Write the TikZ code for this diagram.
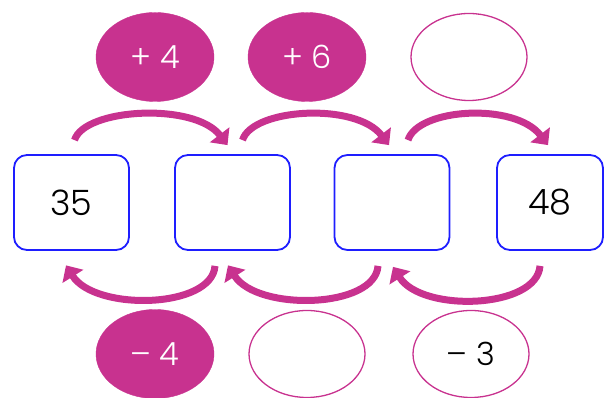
\documentclass[tikz,border=0pt]{standalone}
\usepackage{fontspec}
\IfFontExistsTF{Poppins Light}{\setmainfont{Poppins Light}}{\setmainfont{Poppins}}
\usetikzlibrary{arrows.meta,calc,shapes.geometric}
\definecolor{mag}{RGB}{200,50,143}
\definecolor{bblue}{RGB}{30,30,255}
\tikzset{
  numbox/.style={draw=bblue, line width=1.8pt, rounded corners=13pt, minimum width=115pt, minimum height=95pt, inner sep=0pt, font=\fontsize{35}{35}\selectfont, text=black},
  fullov/.style={ellipse, fill=mag, draw=mag, minimum width=118pt, minimum height=89pt, inner sep=0pt, text=white, font=\fontsize{32}{32}\selectfont},
  emptyov/.style={ellipse, draw=mag, line width=1.3pt, minimum width=116pt, minimum height=87pt, inner sep=0pt, text=black, font=\fontsize{32}{32}\selectfont},
  arr/.style={draw=mag, line width=7pt, -{Triangle[length=13pt,width=24pt]}}
}
\begin{document}
\begin{tikzpicture}[x=1pt,y=1pt]
\useasboundingbox (0,0) rectangle (605,398);
\node[numbox] (b1) at (71.5,195.5) {35};
\node[numbox] (b2) at (232.5,195.5) {};
\node[numbox] (b3) at (392,195.5) {};
\node[numbox, minimum width=106pt] (b4) at (550,195.5) {48};
\node[fullov] (t1) at (155,341) {+ 4};
\node[fullov] (t2) at (307,341) {+ 6};
\node[emptyov] (t3) at (469,341) {};
\node[fullov] (u1) at (155,44) {– 4};
\node[emptyov] (u2) at (307,44) {};
\node[emptyov] (u3) at (471,44) {– 3};
\draw[arr] ([shift={(3,14)}]b1.north) .. controls +(10,32) and +(-33,43) .. ([shift={(-5,9)}]b2.north);
\draw[arr] ([shift={(10,14)}]b2.north) .. controls +(10,32) and +(-33,43) .. ([shift={(-3,9)}]b3.north);
\draw[arr] ([shift={(16,14)}]b3.north) .. controls +(10,32) and +(-33,43) .. ([shift={(-2,9)}]b4.north);
\draw[arr] ([shift={(-17.5,-15)}]b2.south) .. controls +(-3,-43) and +(29,-46) .. ([shift={(-5.5,-14.5)}]b1.south);
\draw[arr] ([shift={(-14,-15)}]b3.south) .. controls +(-3,-43) and +(29,-46) .. ([shift={(-4.5,-14.5)}]b2.south);
\draw[arr] ([shift={(-10,-15)}]b4.south) .. controls +(-3,-43) and +(29,-46) .. ([shift={(1,-16)}]b3.south);
\end{tikzpicture}
\end{document}
